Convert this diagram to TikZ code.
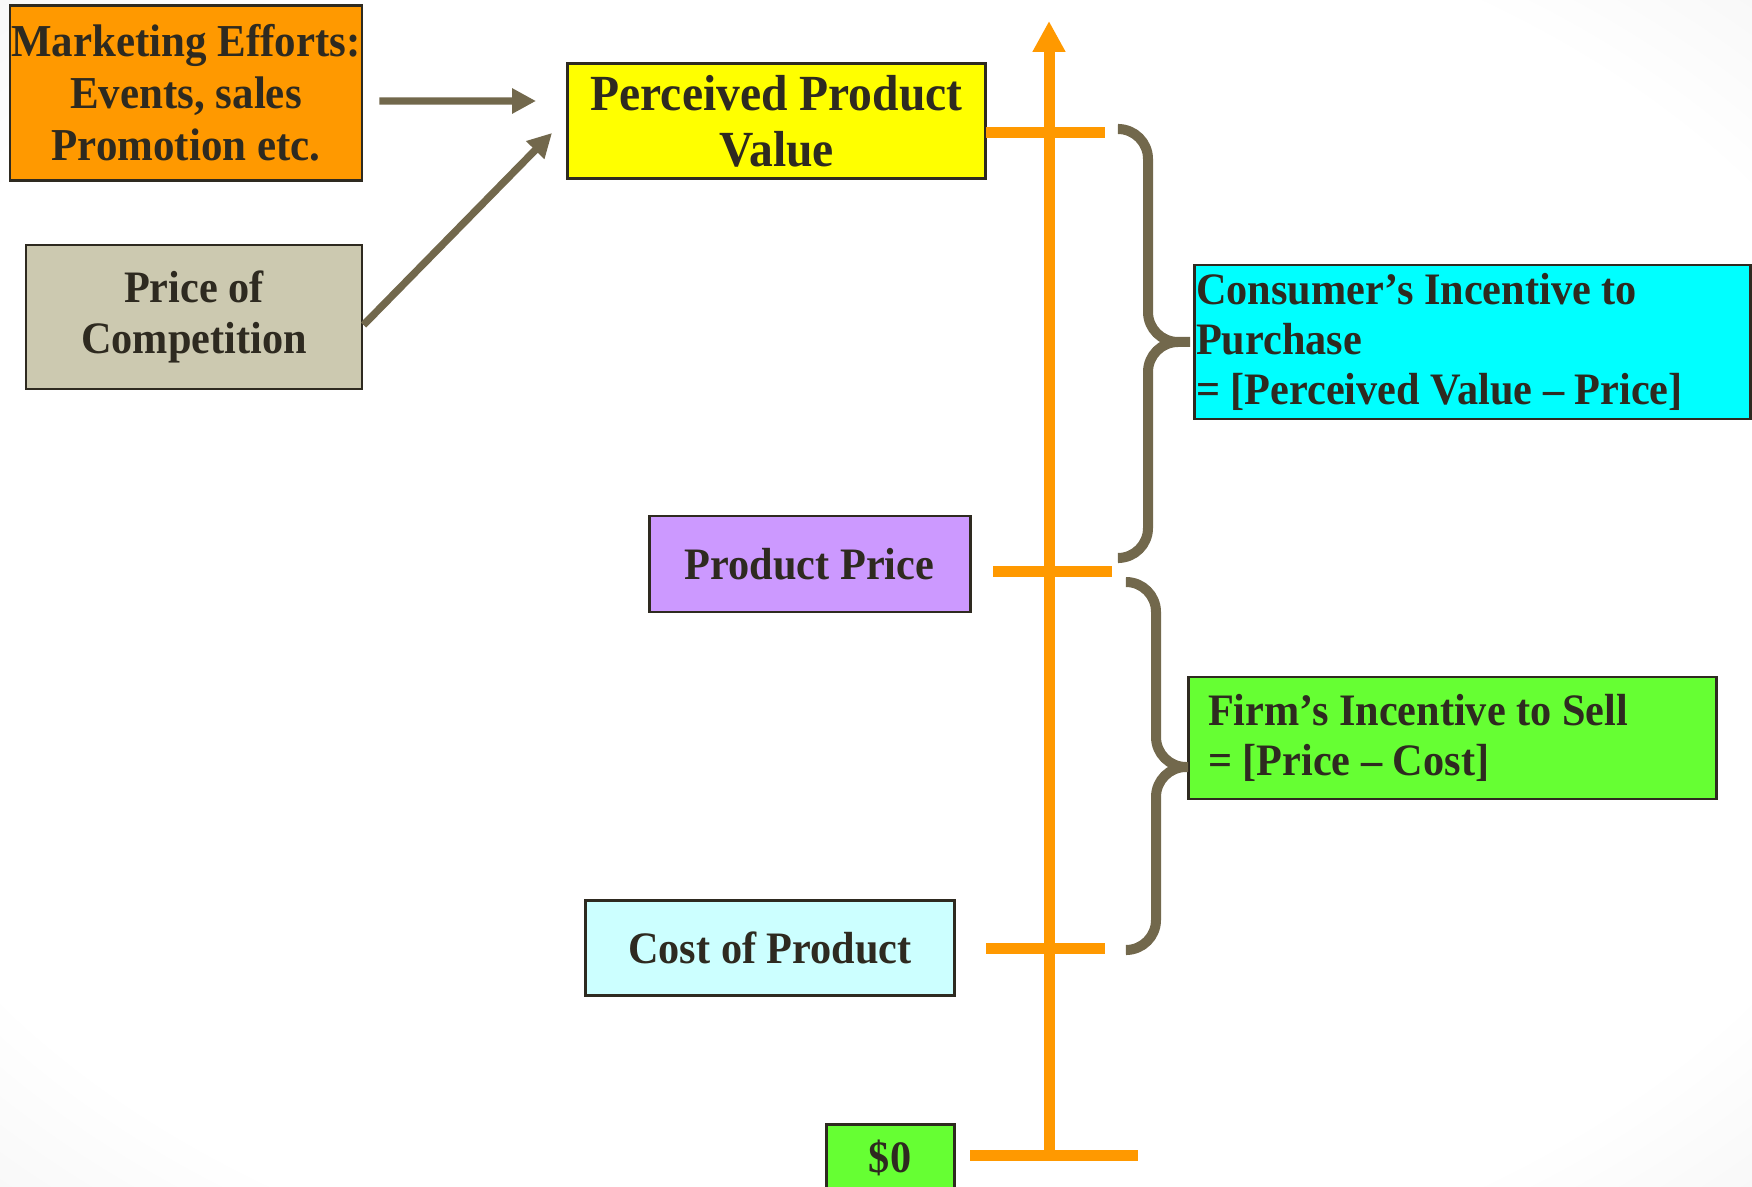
\documentclass[tikz,border=0pt]{standalone}
\usepackage{fontspec}
\setmainfont[FakeStretch=0.94]{Liberation Serif}
\definecolor{PPTorange}{HTML}{FF9900}
\definecolor{PPTyellow}{HTML}{FFFF00}
\definecolor{PPTlilac}{HTML}{CC99FF}
\definecolor{PPTice}{HTML}{CCFFFF}
\definecolor{PPTcyan}{HTML}{00FFFF}
\definecolor{PPTgreen}{HTML}{66FF33}
\definecolor{PPTkhaki}{HTML}{CCC9B0}
\definecolor{PPTbrown}{HTML}{72684C}
\definecolor{PPTink}{HTML}{2E2A20}
\usetikzlibrary{arrows.meta}
\pgfdeclareradialshading{slidebg}{\pgfpoint{0bp}{0bp}}{color(0bp)=(white); color(30bp)=(white); color(50bp)=(black!10)}

\begin{document}
\begin{tikzpicture}[
  box/.style={draw=PPTink,line width=0.85pt,text=PPTink,font=\fontsize{12.8}{14.3}\selectfont\bfseries,align=center,inner sep=0pt},
  link/.style={draw=PPTbrown,line width=2.1pt,-{Triangle[length=0.24cm,width=0.24cm]}},
  axis/.style={draw=PPTorange,line width=0.11cm},
  brace/.style={draw=PPTbrown,line width=0.1cm,rounded corners=0.3cm}]
  \useasboundingbox (0,0) rectangle (17.52,-11.87);
  \shade[shading=slidebg] (0,0) rectangle (17.52,-11.87);

  \node[box,fill=PPTorange,minimum width=3.52cm,minimum height=1.75cm,font=\fontsize{13}{14.8}\selectfont\bfseries] (mkt) at (1.86,-0.93) {Marketing Efforts:\\Events, sales\\Promotion etc.};
  \node[box,fill=PPTkhaki,minimum width=3.36cm,minimum height=1.44cm] (comp) at (1.94,-3.17) {Price of\\Competition};
  \node[box,fill=PPTyellow,minimum width=4.18cm,minimum height=1.15cm,font=\fontsize{14.4}{15.9}\selectfont\bfseries] (ppv) at (7.765,-1.21) {Perceived Product\\Value};
  \node[box,fill=PPTlilac,minimum width=3.21cm,minimum height=0.96cm] (price) at (8.095,-5.64) {Product Price};
  \node[box,fill=PPTice,minimum width=3.69cm,minimum height=0.95cm] (cost) at (7.70,-9.48) {Cost of Product};
  \node[box,fill=PPTgreen,minimum width=1.28cm,minimum height=0.68cm] (zero) at (8.90,-11.58) {\$0};
  \node[box,fill=PPTcyan,minimum width=5.56cm,minimum height=1.54cm,text width=5.52cm,align=flush left] (cons) at (14.72,-3.42) {Consumer’s Incentive to\\Purchase\\= [Perceived Value -- Price]};
  \node[box,fill=PPTgreen,minimum width=5.28cm,minimum height=1.22cm,text width=4.88cm,align=flush left] (firm) at (14.52,-7.38) {Firm’s Incentive to Sell\\= [Price -- Cost]};

  \draw[link,shorten >=0.3cm] (mkt.east) ++(0.16,-0.08) -- (ppv.west |- 0,-1.01);
  \draw[link] ([yshift=-0.08cm]comp.east) -- ([xshift=-0.14cm,yshift=-0.12cm]ppv.west);

  \draw[axis,-{Triangle[length=0.31cm,width=0.31cm]}] (10.49,-11.54) -- (10.49,-0.21);
  \foreach \y/\a/\b in {-1.33/9.86/11.05,-5.71/9.93/11.12,-9.48/9.86/11.05,-11.55/9.70/11.38}
    \draw[axis] (\a,\y) -- (\b,\y);

  \foreach \s/\v/\tip/\ya/\ym/\yb in {11.19/11.48/11.90/-1.29/-3.42/-5.58,11.27/11.56/11.88/-5.82/-7.67/-9.50}
    \draw[brace] (\s,\ya) -- (\v,\ya) -- (\v,\ym) -- (\tip,\ym) (\tip,\ym) -- (\v,\ym) -- (\v,\yb) -- (\s,\yb);
\end{tikzpicture}
\end{document}
